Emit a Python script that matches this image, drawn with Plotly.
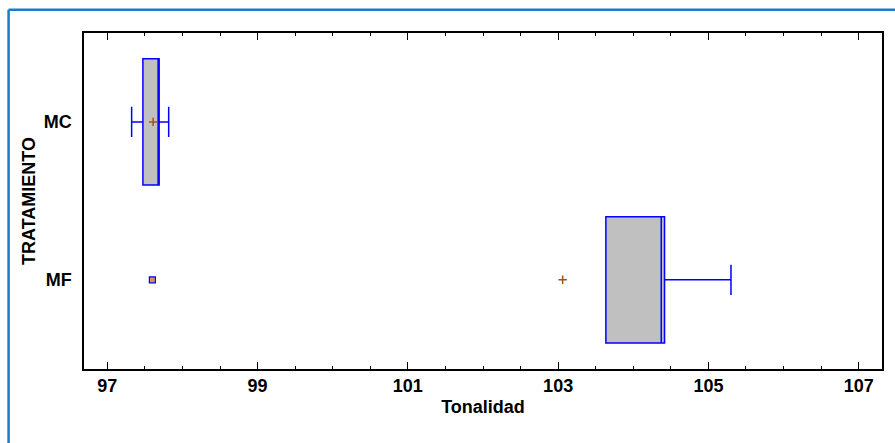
import plotly.graph_objects as go

categories = ["MC", "MF"]
q1 = [97.474, 103.635]
median = [97.683, 104.372]
q3 = [97.690, 104.416]
lower_whisker = [97.324, 103.635]
upper_whisker = [97.817, 105.30]
means = [97.61, 103.06]
outlier_cat = ["MF"]
outlier_val = [97.6]
x_ticks = [97, 99, 101, 103, 105, 107]

FONT = "Liberation Sans, Arial, sans-serif"
BLUE = "#0000FF"
BROWN = "#A5520F"

fig = go.Figure()
fig.add_trace(go.Box(
    y=categories, q1=q1, median=median, q3=q3,
    lowerfence=lower_whisker, upperfence=upper_whisker,
    orientation="h", width=0.8, whiskerwidth=0.24,
    fillcolor="#C0C0C0", line=dict(color=BLUE, width=1.5),
    boxpoints=False, showlegend=False,
))
fig.add_trace(go.Scatter(
    x=outlier_val, y=outlier_cat, mode="markers",
    marker=dict(symbol="square", size=6, color="#D9905A",
                line=dict(color=BLUE, width=1.2)),
    showlegend=False,
))
fig.add_trace(go.Scatter(
    x=means, y=categories, mode="markers",
    marker=dict(symbol="cross-thin", size=6, line=dict(color=BROWN, width=1.5)),
    showlegend=False,
))

# outer frame (cropped at right and bottom in the reference)
frame_x = -0.0945
frame_y = 1.0693
fig.add_shape(type="line", xref="paper", yref="paper",
              x0=frame_x, y0=frame_y, x1=frame_x, y1=-0.3,
              line=dict(color="#1A7ACF", width=2.5))
fig.add_shape(type="line", xref="paper", yref="paper",
              x0=frame_x, y0=frame_y, x1=1.1, y1=frame_y,
              line=dict(color="#1A7ACF", width=2.5))

fig.update_layout(
    width=895, height=443,
    margin=dict(l=84, r=13, t=33, b=74),
    paper_bgcolor="white", plot_bgcolor="white",
    font=dict(family=FONT, size=18, color="black", weight="bold"),
    xaxis=dict(
        range=[96.69, 107.31],
        tickvals=x_ticks, ticktext=[str(v) for v in x_ticks],
        ticks="inside", ticklen=7, tickwidth=1.3, tickcolor="black",
        minor=dict(ticks="inside", ticklen=3.5, dtick=0.5, tick0=97,
                   tickwidth=1.3, tickcolor="black"),
        showline=True, linecolor="black", linewidth=1.5, mirror="ticks",
        showgrid=False, zeroline=False,
        ticklabelstandoff=0,
        title=dict(text="Tonalidad", standoff=5,
                   font=dict(family=FONT, size=18, weight="bold")),
        tickfont=dict(family=FONT, size=18, weight="bold"),
    ),
    yaxis=dict(
        type="category", categoryorder="array", categoryarray=["MF", "MC"],
        range=[-0.565, 1.563],
        ticks="", showline=True, linecolor="black", linewidth=1.5, mirror=True,
        showgrid=False, zeroline=False,
        ticklabelstandoff=7,
        title=dict(text="TRATAMIENTO", standoff=3,
                   font=dict(family=FONT, size=18, weight="bold")),
        tickfont=dict(family=FONT, size=18, weight="bold"),
    ),
)

fig.write_html("out.html")
